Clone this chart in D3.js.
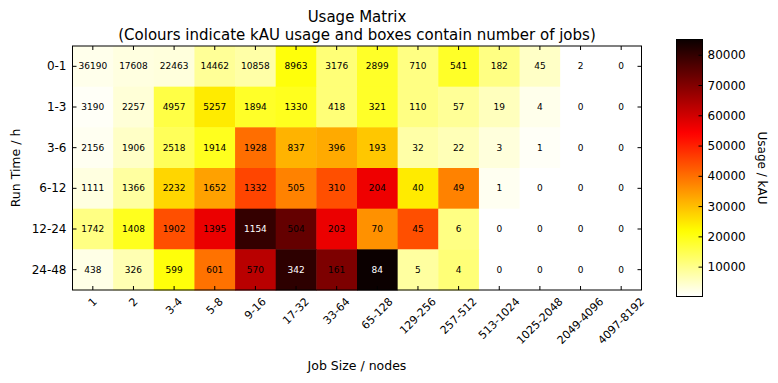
<!DOCTYPE html>
<html lang="en">
<head>
<meta charset="UTF-8">
<script src="https://d3js.org/d3.v7.min.js"></script>
<style>
  body { margin: 0; background: #fff; }
  svg text { font-family: "DejaVu Sans", sans-serif; }
</style>
</head>
<body>
<svg width="778" height="383"></svg>
<script>
// categories
var jobSizes = ["1", "2", "3-4", "5-8", "9-16", "17-32", "33-64", "65-128",
                "129-256", "257-512", "513-1024", "1025-2048", "2049-4096", "4097-8192"];
var runTimes = ["0-1", "1-3", "3-6", "6-12", "12-24", "24-48"];

// number of jobs per box (rows = run time)
var jobCounts = [
  [36190, 17608, 22463, 14462, 10858, 8963, 3176, 2899, 710, 541, 182, 45, 2, 0],
  [3190, 2257, 4957, 5257, 1894, 1330, 418, 321, 110, 57, 19, 4, 0, 0],
  [2156, 1906, 2518, 1914, 1928, 837, 396, 193, 32, 22, 3, 1, 0, 0],
  [1111, 1366, 2232, 1652, 1332, 505, 310, 204, 40, 49, 1, 0, 0, 0],
  [1742, 1408, 1902, 1395, 1154, 504, 203, 70, 45, 6, 0, 0, 0, 0],
  [438, 326, 599, 601, 570, 342, 161, 84, 5, 4, 0, 0, 0, 0]
];

// usage in kAU per box (estimated from the colours)
var usageKAU = [
  [2000, 2900, 3300, 9100, 7700, 21000, 11800, 18500, 10800, 18500, 10800, 5100, 50, 0],
  [1000, 3700, 16000, 24400, 18500, 19300, 11800, 18500, 10800, 9100, 5900, 2000, 0, 0],
  [1500, 5100, 14300, 19300, 40300, 31500, 32600, 29000, 7700, 6400, 3300, 1000, 0, 0],
  [2900, 8300, 27000, 33800, 45500, 37700, 44200, 56200, 24400, 37700, 1500, 0, 0, 0],
  [10800, 19300, 44200, 56800, 80000, 73900, 56800, 35800, 44200, 10800, 0, 0, 0, 0],
  [2400, 6800, 21000, 39700, 63100, 80900, 70700, 85200, 8300, 11800, 0, 0, 0, 0]
];

var usageMin = 300, usageMax = 85200;
var colourTicks = [10000, 20000, 30000, 40000, 50000, 60000, 70000, 80000];

// matplotlib "hot" reversed
function hotR(n) {
  n = Math.max(0, Math.min(1, n));
  var t = 1 - n;
  var r = t < 0.365079 ? 0.0416 + (1 - 0.0416) * t / 0.365079 : 1;
  var g = t < 0.365079 ? 0 : (t < 0.746032 ? (t - 0.365079) / (0.746032 - 0.365079) : 1);
  var b = t < 0.746032 ? 0 : (t - 0.746032) / (1 - 0.746032);
  return d3.rgb(r * 255, g * 255, b * 255).toString();
}

var svg = d3.select("svg");
var plot = {left: 72.5, right: 641.5, top: 46, bottom: 290};

var x = d3.scaleBand().domain(jobSizes).range([plot.left, plot.right]);
var y = d3.scaleBand().domain(runTimes).range([plot.top, plot.bottom]);
var norm = d3.scaleLinear().domain([usageMin, usageMax]).range([0, 1]).clamp(true);

var cells = [];
runTimes.forEach(function(rt, i) {
  jobSizes.forEach(function(js, j) {
    cells.push({rt: rt, js: js, jobs: jobCounts[i][j], usage: usageKAU[i][j]});
  });
});

svg.append("g").selectAll("rect").data(cells).join("rect")
  .attr("x", function(d) { return x(d.js); })
  .attr("y", function(d) { return y(d.rt); })
  .attr("width", x.bandwidth() + 0.5)
  .attr("height", y.bandwidth() + 0.5)
  .attr("fill", function(d) { return hotR(norm(d.usage)); });

svg.append("g").selectAll("text").data(cells).join("text")
  .attr("x", function(d) { return x(d.js) + x.bandwidth() / 2; })
  .attr("y", function(d) { return y(d.rt) + y.bandwidth() / 2; })
  .attr("text-anchor", "middle")
  .attr("dominant-baseline", "central")
  .attr("font-size", 9)
  .attr("fill", function(d) { return norm(d.usage) > 0.9 ? "#fff" : "#000"; })
  .text(function(d) { return d.jobs; });

// frame + inward ticks
var tickLen = 4;
var frame = svg.append("g").attr("stroke", "#000").attr("fill", "none");
frame.append("rect")
  .attr("x", plot.left).attr("y", plot.top)
  .attr("width", plot.right - plot.left).attr("height", plot.bottom - plot.top);
jobSizes.forEach(function(js) {
  var cx = x(js) + x.bandwidth() / 2;
  frame.append("line").attr("x1", cx).attr("x2", cx).attr("y1", plot.top).attr("y2", plot.top + tickLen);
  frame.append("line").attr("x1", cx).attr("x2", cx).attr("y1", plot.bottom).attr("y2", plot.bottom - tickLen);
});
runTimes.forEach(function(rt) {
  var cy = y(rt) + y.bandwidth() / 2;
  frame.append("line").attr("x1", plot.left).attr("x2", plot.left + tickLen).attr("y1", cy).attr("y2", cy);
  frame.append("line").attr("x1", plot.right).attr("x2", plot.right - tickLen).attr("y1", cy).attr("y2", cy);
});

// y tick labels
svg.append("g").selectAll("text").data(runTimes).join("text")
  .attr("x", plot.left - 6)
  .attr("y", function(d) { return y(d) + y.bandwidth() / 2; })
  .attr("text-anchor", "end")
  .attr("dominant-baseline", "central")
  .attr("font-size", 12)
  .text(function(d) { return d; });

// x tick labels, rotated 45 and centred under the tick
var fs = 11;
svg.append("g").selectAll("text").data(jobSizes).join("text")
  .attr("text-anchor", "middle")
  .attr("dominant-baseline", "central")
  .attr("font-size", fs)
  .text(function(d) { return d; })
  .each(function(d) {
    var w = this.getComputedTextLength();
    var h = (w + fs) * Math.SQRT1_2;
    var cx = x(d) + x.bandwidth() / 2;
    var cy = plot.bottom + 6 + h / 2;
    d3.select(this).attr("transform", "translate(" + cx + "," + cy + ") rotate(-45)");
  });

// titles and axis labels
svg.append("text").attr("x", 357).attr("y", 22).attr("text-anchor", "middle")
  .attr("font-size", 15).text("Usage Matrix");
svg.append("text").attr("x", 357).attr("y", 39.5).attr("text-anchor", "middle")
  .attr("font-size", 15).text("(Colours indicate kAU usage and boxes contain number of jobs)");
svg.append("text").attr("x", 357).attr("y", 370).attr("text-anchor", "middle")
  .attr("font-size", 12.5).text("Job Size / nodes");
svg.append("text").attr("transform", "translate(20,168) rotate(-90)").attr("text-anchor", "middle")
  .attr("font-size", 12.5).text("Run Time / h");

// colour bar
var bar = {left: 676.5, right: 702.5, top: 39.5, bottom: 296.5};
var cy = d3.scaleLinear().domain([usageMin, usageMax]).range([bar.bottom, bar.top]);
var grad = svg.append("defs").append("linearGradient").attr("id", "hotr")
  .attr("x1", 0).attr("y1", 1).attr("x2", 0).attr("y2", 0);
d3.range(0, 1.0001, 0.02).forEach(function(s) {
  grad.append("stop").attr("offset", s).attr("stop-color", hotR(s));
});
svg.append("rect")
  .attr("x", bar.left).attr("y", bar.top)
  .attr("width", bar.right - bar.left).attr("height", bar.bottom - bar.top)
  .attr("fill", "url(#hotr)").attr("stroke", "#000").attr("stroke-width", 1);
var cbar = svg.append("g");
colourTicks.forEach(function(v) {
  cbar.append("line").attr("x1", bar.right - tickLen).attr("x2", bar.right)
    .attr("y1", cy(v)).attr("y2", cy(v)).attr("stroke", "#000");
});
cbar.selectAll("text").data(colourTicks).join("text")
  .attr("x", bar.right + 5)
  .attr("y", function(d) { return cy(d); })
  .attr("dominant-baseline", "central")
  .attr("font-size", 12)
  .text(function(d) { return d; });
svg.append("text").attr("transform", "translate(758,168) rotate(90)").attr("text-anchor", "middle")
  .attr("font-size", 12).text("Usage / kAU");
</script>
</body>
</html>
